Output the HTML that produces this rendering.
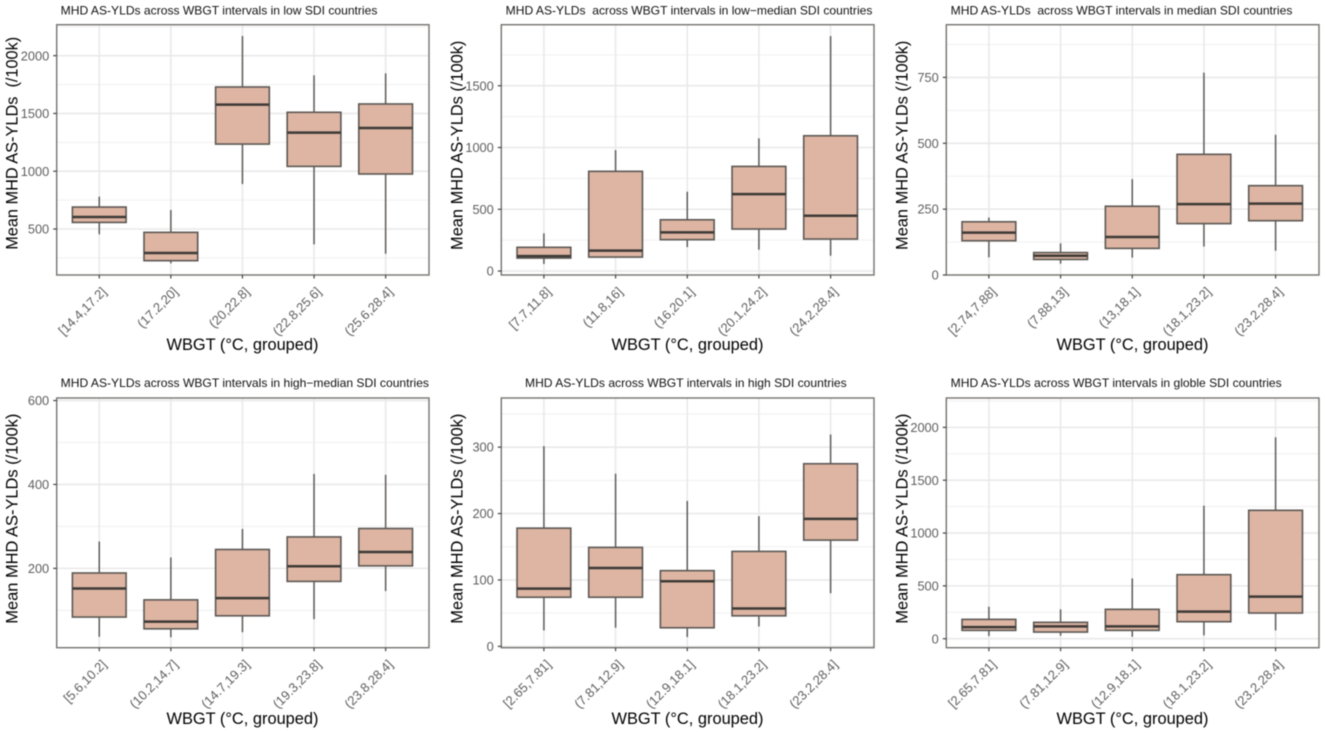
<!DOCTYPE html>
<html lang="en">
<head>
<meta charset="utf-8">
<title>MHD AS-YLDs across WBGT intervals by SDI</title>
<style>
html,body{margin:0;padding:0;background:#fff;width:1325px;height:733px;overflow:hidden}
svg{display:block;filter:blur(0.5px);font-family:"Liberation Sans",sans-serif}
.title{font-size:11.7px;fill:#111;white-space:pre}
.ytitle,.xtitle{font-size:16.5px;fill:#000;white-space:pre}
.ytick{font-size:12.8px;fill:#5e5e5e;text-anchor:end}
.xtick{font-size:13px;fill:#5e5e5e;text-anchor:end}
</style>
</head>
<body>
<svg id="figure" width="1325" height="733" viewBox="0 0 1325 733" xmlns="http://www.w3.org/2000/svg">
  <rect width="1325" height="733" fill="#fff"/>

  <g id="panel-low">
    <text class="title" x="60.7" y="14.5" textLength="316.7" lengthAdjust="spacingAndGlyphs">MHD AS-YLDs across WBGT intervals in low SDI countries</text>
    <text class="ytitle" transform="translate(17.5,143.3) rotate(-90)" text-anchor="middle" textLength="213" lengthAdjust="spacingAndGlyphs">Mean MHD AS-YLDs  (/100k)</text>
    <text class="xtitle" x="166.5" y="350" textLength="152" lengthAdjust="spacingAndGlyphs">WBGT (°C, grouped)</text>
  </g>

  <g id="panel-lowmed">
    <text class="title" x="505.7" y="14.5" textLength="366.7" lengthAdjust="spacingAndGlyphs">MHD AS-YLDs  across WBGT intervals in low−median SDI countries</text>
    <text class="ytitle" transform="translate(462.7,145.3) rotate(-90)" text-anchor="middle" textLength="209.3" lengthAdjust="spacingAndGlyphs">Mean MHD AS-YLDs (/100k)</text>
    <text class="xtitle" x="611.5" y="350" textLength="152" lengthAdjust="spacingAndGlyphs">WBGT (°C, grouped)</text>
  </g>

  <g id="panel-med">
    <text class="title" x="950.7" y="14.5" textLength="341.7" lengthAdjust="spacingAndGlyphs">MHD AS-YLDs  across WBGT intervals in median SDI countries</text>
    <text class="ytitle" transform="translate(907.7,145.3) rotate(-90)" text-anchor="middle" textLength="209.3" lengthAdjust="spacingAndGlyphs">Mean MHD AS-YLDs (/100k)</text>
    <text class="xtitle" x="1056.5" y="350" textLength="152" lengthAdjust="spacingAndGlyphs">WBGT (°C, grouped)</text>
  </g>

  <g id="panel-highmed">
    <text class="title" x="60.7" y="387" textLength="368.3" lengthAdjust="spacingAndGlyphs">MHD AS-YLDs across WBGT intervals in high−median SDI countries</text>
    <text class="ytitle" transform="translate(17.5,518.7) rotate(-90)" text-anchor="middle" textLength="210" lengthAdjust="spacingAndGlyphs">Mean MHD AS-YLDs (/100k)</text>
    <text class="xtitle" x="166.5" y="724" textLength="152" lengthAdjust="spacingAndGlyphs">WBGT (°C, grouped)</text>
  </g>

  <g id="panel-high">
    <text class="title" x="525" y="387" textLength="321.7" lengthAdjust="spacingAndGlyphs">MHD AS-YLDs across WBGT intervals in high SDI countries</text>
    <text class="ytitle" transform="translate(462.7,518.7) rotate(-90)" text-anchor="middle" textLength="210" lengthAdjust="spacingAndGlyphs">Mean MHD AS-YLDs (/100k)</text>
    <text class="xtitle" x="611.5" y="724" textLength="152" lengthAdjust="spacingAndGlyphs">WBGT (°C, grouped)</text>
  </g>

  <g id="panel-global">
    <text class="title" x="950.7" y="387" textLength="331" lengthAdjust="spacingAndGlyphs">MHD AS-YLDs across WBGT intervals in globle SDI countries</text>
    <text class="ytitle" transform="translate(907.7,518.7) rotate(-90)" text-anchor="middle" textLength="210" lengthAdjust="spacingAndGlyphs">Mean MHD AS-YLDs (/100k)</text>
    <text class="xtitle" x="1056.5" y="724" textLength="152" lengthAdjust="spacingAndGlyphs">WBGT (°C, grouped)</text>
  </g>
</svg>

<script>
// ---- Panel: low SDI ----
const lowCategories = ["[14.4,17.2]", "(17.2,20]", "(20,22.8]", "(22.8,25.6]", "(25.6,28.4]"];
const lowWhiskerLow = [454, 203, 889, 367, 286];
const lowQ1 = [557, 226, 1235, 1042, 976];
const lowMedian = [604, 292, 1576, 1334, 1374];
const lowQ3 = [690, 471, 1729, 1510, 1582];
const lowWhiskerHigh = [780, 664, 2170, 1830, 1847];
const lowTicks = [500, 1000, 1500, 2000];
const lowMinorTicks = [250, 750, 1250, 1750, 2250];

// ---- Panel: low-median SDI ----
const lowMedCategories = ["[7.7,11.8]", "(11.8,16]", "(16,20.1]", "(20.1,24.2]", "(24.2,28.4]"];
const lowMedWhiskerLow = [57, 110, 194, 173, 124];
const lowMedQ1 = [105, 113, 254, 340, 259];
const lowMedMedian = [121, 165, 313, 623, 448];
const lowMedQ3 = [192, 807, 415, 847, 1095];
const lowMedWhiskerHigh = [305, 979, 642, 1074, 1902];
const lowMedTicks = [0, 500, 1000, 1500];
const lowMedMinorTicks = [250, 750, 1250, 1750];

// ---- Panel: median SDI ----
const medCategories = ["[2.74,7.88]", "(7.88,13]", "(13,18.1]", "(18.1,23.2]", "(23.2,28.4]"];
const medWhiskerLow = [67, 43, 66, 108, 92];
const medQ1 = [130, 59, 101, 195, 206];
const medMedian = [161, 73, 144, 269, 271];
const medQ3 = [202, 85, 261, 458, 339];
const medWhiskerHigh = [218, 120, 364, 768, 532];
const medTicks = [0, 250, 500, 750];
const medMinorTicks = [125, 375, 625, 875];

// ---- Panel: high-median SDI ----
const highMedCategories = ["[5.6,10.2]", "(10.2,14.7]", "(14.7,19.3]", "(19.3,23.8]", "(23.8,28.4]"];
const highMedWhiskerLow = [37, 36, 48, 79, 146];
const highMedQ1 = [84, 56, 87, 169, 206];
const highMedMedian = [152, 73, 129, 205, 239];
const highMedQ3 = [189, 125, 245, 275, 295];
const highMedWhiskerHigh = [264, 226, 294, 425, 423];
const highMedTicks = [200, 400, 600];
const highMedMinorTicks = [100, 300, 500];

// ---- Panel: high SDI ----
const highCategories = ["[2.65,7.81]", "(7.81,12.9]", "(12.9,18.1]", "(18.1,23.2]", "(23.2,28.4]"];
const highWhiskerLow = [24, 28, 14, 30, 80];
const highQ1 = [74, 74, 28, 46, 160];
const highMedian = [87, 118, 98, 57, 192];
const highQ3 = [178, 149, 114, 143, 275];
const highWhiskerHigh = [301.5, 260, 219, 196, 319];
const highTicks = [0, 100, 200, 300];
const highMinorTicks = [50, 150, 250, 350];

// ---- Panel: globle SDI ----
const globalCategories = ["[2.65,7.81]", "(7.81,12.9]", "(12.9,18.1]", "(18.1,23.2]", "(23.2,28.4]"];
const globalWhiskerLow = [25, 28, 19, 32, 79];
const globalQ1 = [79, 63, 79, 161, 243];
const globalMedian = [110, 117, 117, 256, 398];
const globalQ3 = [183, 155, 278, 606, 1215];
const globalWhiskerHigh = [303, 278, 571, 1259, 1906];
const globalTicks = [0, 500, 1000, 1500, 2000];
const globalMinorTicks = [250, 750, 1250, 1750, 2250];

const SVG_NS = "http://www.w3.org/2000/svg";

function mk(parent, tag, attrs) {
  const el = document.createElementNS(SVG_NS, tag);
  for (const k in attrs) el.setAttribute(k, attrs[k]);
  parent.appendChild(el);
  return el;
}

function drawPanel(p) {
  const root = document.getElementById(p.id);
  const yScale = v => p.bottom - (v - p.yMin) / (p.yMax - p.yMin) * (p.bottom - p.top);
  const step = (p.right - p.left) / 5.2;
  const xScale = i => p.left + (0.6 + i) * step - 0.4;
  const boxW = step * 0.75;

  const bg = mk(root, "rect", {x: p.left, y: p.top, width: p.right - p.left, height: p.bottom - p.top, fill: "#fff"});
  
  

  p.minor.forEach(v => {
    const y = yScale(v);
    if (y < p.top || y > p.bottom) return;
    const g = mk(root, "line", {x1: p.left, x2: p.right, y1: y, y2: y, stroke: "#f0f0f0", "stroke-width": 1});
    
    
  });
  p.ticks.forEach(v => {
    const y = yScale(v);
    const g = mk(root, "line", {x1: p.left, x2: p.right, y1: y, y2: y, stroke: "#e9e9e9", "stroke-width": 1.6});
    
    
  });
  p.cats.forEach((c, i) => {
    const x = xScale(i);
    const g = mk(root, "line", {x1: x, x2: x, y1: p.top, y2: p.bottom, stroke: "#e9e9e9", "stroke-width": 1.6});
    
    
  });

  p.cats.forEach((c, i) => {
    const x = xScale(i);
    const wu = mk(root, "line", {x1: x, x2: x, y1: yScale(p.hi[i]), y2: yScale(p.q3[i]), stroke: "#5f5c58", "stroke-width": 1.5});
    
    
    const wl = mk(root, "line", {x1: x, x2: x, y1: yScale(p.q1[i]), y2: yScale(p.lo[i]), stroke: "#5f5c58", "stroke-width": 1.5});
    
    
    const box = mk(root, "rect", {x: x - boxW / 2, y: yScale(p.q3[i]), width: boxW, height: yScale(p.q1[i]) - yScale(p.q3[i]), fill: "#deb5a3", stroke: "#5c5854", "stroke-width": 1.6});
    
    
    const med = mk(root, "line", {x1: x - boxW / 2, x2: x + boxW / 2, y1: yScale(p.med[i]), y2: yScale(p.med[i]), stroke: "#3d3a36", "stroke-width": 2.5});
    
    
  });

  const border = mk(root, "rect", {x: p.left, y: p.top, width: p.right - p.left, height: p.bottom - p.top, fill: "none", stroke: "#75736f", "stroke-width": 1.4});
  
  

  p.ticks.forEach(v => {
    const y = yScale(v);
    const t = mk(root, "line", {x1: p.left - 3.5, x2: p.left, y1: y, y2: y, stroke: "#444", "stroke-width": 1.2});
    
    
    const lab = mk(root, "text", {class: "ytick", x: p.left - 7.5, y: y + 4.6});
    
    
    lab.textContent = String(v);
  });

  p.cats.forEach((c, i) => {
    const x = xScale(i);
    const t = mk(root, "line", {x1: x, x2: x, y1: p.bottom, y2: p.bottom + 3.5, stroke: "#444", "stroke-width": 1.2});
    
    
    const lab = mk(root, "text", {class: "xtick", transform: "translate(" + (x + 8) + "," + (p.bottom + 17.5) + ") rotate(-45)"});
    
    
    lab.textContent = c;
  });
}

const colLeft = [56.7, 501.3, 946.3];
const colRight = [429, 874, 1319];

drawPanel({id: "panel-low", left: colLeft[0], right: colRight[0], top: 24.7, bottom: 275, yMin: 102, yMax: 2268,
  cats: lowCategories, lo: lowWhiskerLow, q1: lowQ1, med: lowMedian, q3: lowQ3, hi: lowWhiskerHigh, ticks: lowTicks, minor: lowMinorTicks});
drawPanel({id: "panel-lowmed", left: colLeft[1], right: colRight[1], top: 24.7, bottom: 275, yMin: -32, yMax: 1994,
  cats: lowMedCategories, lo: lowMedWhiskerLow, q1: lowMedQ1, med: lowMedMedian, q3: lowMedQ3, hi: lowMedWhiskerHigh, ticks: lowMedTicks, minor: lowMedMinorTicks});
drawPanel({id: "panel-med", left: colLeft[2], right: colRight[2], top: 24.7, bottom: 275, yMin: 0, yMax: 950,
  cats: medCategories, lo: medWhiskerLow, q1: medQ1, med: medMedian, q3: medQ3, hi: medWhiskerHigh, ticks: medTicks, minor: medMinorTicks});
drawPanel({id: "panel-highmed", left: colLeft[0], right: colRight[0], top: 398, bottom: 647.7, yMin: 11, yMax: 606,
  cats: highMedCategories, lo: highMedWhiskerLow, q1: highMedQ1, med: highMedMedian, q3: highMedQ3, hi: highMedWhiskerHigh, ticks: highMedTicks, minor: highMedMinorTicks});
drawPanel({id: "panel-high", left: colLeft[1], right: colRight[1], top: 398, bottom: 647.7, yMin: -2, yMax: 374,
  cats: highCategories, lo: highWhiskerLow, q1: highQ1, med: highMedian, q3: highQ3, hi: highWhiskerHigh, ticks: highTicks, minor: highMinorTicks});
drawPanel({id: "panel-global", left: colLeft[2], right: colRight[2], top: 398, bottom: 647.7, yMin: -85, yMax: 2278,
  cats: globalCategories, lo: globalWhiskerLow, q1: globalQ1, med: globalMedian, q3: globalQ3, hi: globalWhiskerHigh, ticks: globalTicks, minor: globalMinorTicks});
</script>
</body>
</html>
